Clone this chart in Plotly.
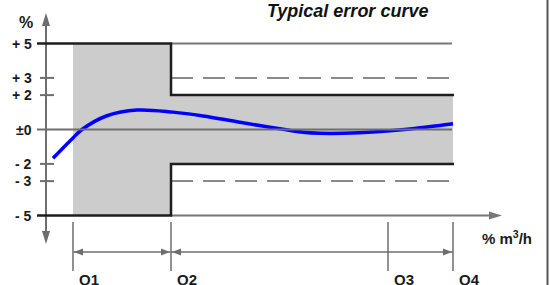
import plotly.graph_objects as go

# ---------------- data ----------------
# x: flow position (arbitrary schematic units, 0 = y-axis)
curve_x = [7, 27, 36, 61, 91, 127, 157, 191, 224, 257, 274, 297, 331, 364, 397, 407]
curve_y = [-1.67, -0.49, 0.0, 0.80, 1.13, 1.01, 0.79, 0.45, 0.13, -0.16, -0.22, -0.22, -0.13, 0.03, 0.26, 0.33]

q_labels = ["Q1", "Q2", "Q3", "Q4"]
q_pos = [27, 125, 342, 407]

tick_vals = [5, 3, 2, 0, -2, -3, -5]
tick_text = ["+ 5", "+ 3", "+ 2", "±0", "- 2", "- 3", "- 5"]

low_range_limit = 5     # % MPE in lower range (Q1..Q2)
high_range_limit = 2    # % MPE in upper range (Q2..Q4)
in_service_limit = 3    # dashed lines

title = "Typical error curve"
x_unit = "% m<sup>3</sup>/h"
y_unit = "%"

# ---------------- geometry helpers ----------------
PX_PER_UNIT_Y = 17.2
Y0_PX = 129.5
Y_TOP = Y0_PX / PX_PER_UNIT_Y
Y_BOT = (Y0_PX - 285) / PX_PER_UNIT_Y
X_LEFT, X_RIGHT = -46, 504


def py(px):  # pixel height -> y data units
    return px / PX_PER_UNIT_Y


GRAY = "#6e6e6e"
DGRAY = "#777777"
BLACK = "#1e1e1e"
FILL = "#cccccc"

Q1, Q2, Q3, Q4 = q_pos
L = low_range_limit
H = high_range_limit
S = in_service_limit

shapes = []

# shaded permissible error area
shapes.append(dict(type="path", xref="x", yref="y",
                   path=f"M{Q1},{-L} L{Q1},{L} L{Q2},{L} L{Q2},{H} L{Q4},{H} L{Q4},{-H} L{Q2},{-H} L{Q2},{-L} Z",
                   fillcolor=FILL, line=dict(width=0), layer="below"))

# gray +5 continuation line
shapes.append(dict(type="line", x0=Q2, x1=Q4 - 1, y0=L, y1=L, line=dict(color=DGRAY, width=2)))
# x-axis line at -5
shapes.append(dict(type="line", x0=Q2, x1=445, y0=-L, y1=-L, line=dict(color=DGRAY, width=2)))
# x-axis arrowhead
shapes.append(dict(type="path", path=f"M443,{-L + py(4)} L456,{-L} L443,{-L - py(4)} Z",
                   fillcolor=DGRAY, line=dict(width=0)))

# dashed in-service lines
for yv in (S, -S):
    shapes.append(dict(type="line", x0=Q2, x1=Q4 - 2, y0=yv, y1=yv,
                       line=dict(color="#8a8a8a", width=2, dash="22px,10px")))

# zero line
shapes.append(dict(type="line", x0=-9, x1=Q4 - 1, y0=0, y1=0, line=dict(color=GRAY, width=2)))

# y axis with arrows
shapes.append(dict(type="line", x0=0, x1=0, y0=py(Y0_PX - 26), y1=-py(231 - Y0_PX),
                   line=dict(color=GRAY, width=2)))
shapes.append(dict(type="path", path=f"M-4,{py(Y0_PX - 26)} L0,{py(Y0_PX - 13)} L4,{py(Y0_PX - 26)} Z",
                   fillcolor=GRAY, line=dict(width=0)))
shapes.append(dict(type="path", path=f"M-4,{-py(231 - Y0_PX)} L0,{-py(244 - Y0_PX)} L4,{-py(231 - Y0_PX)} Z",
                   fillcolor=GRAY, line=dict(width=0)))

# minor ticks
for tv in tick_vals:
    if abs(tv) in (S, H):
        shapes.append(dict(type="line", x0=-6, x1=8, y0=tv, y1=tv, line=dict(color=GRAY, width=2)))

# black limit step lines
for sgn in (1, -1):
    shapes.append(dict(type="path",
                       path=f"M-9,{sgn*L} L{Q2},{sgn*L} L{Q2},{sgn*H} L{Q4 + 1},{sgn*H}",
                       line=dict(color=BLACK, width=2.5)))

# Q vertical ticks
q_top = -py(222 - Y0_PX)
q_bot = -py(271 - Y0_PX)
for q in q_pos:
    shapes.append(dict(type="line", x0=q, x1=q, y0=q_top, y1=q_bot, line=dict(color=GRAY, width=1.5)))

# dimension lines
dim_y = -py(252 - Y0_PX)
for a, b in ((Q1, Q2), (Q2, Q4)):
    shapes.append(dict(type="line", x0=a, x1=b, y0=dim_y, y1=dim_y, line=dict(color=GRAY, width=1.5)))
    shapes.append(dict(type="path",
                       path=f"M{a + 1},{dim_y} L{a + 10},{dim_y + py(3.5)} L{a + 10},{dim_y - py(3.5)} Z",
                       fillcolor=GRAY, line=dict(width=0)))
    shapes.append(dict(type="path",
                       path=f"M{b - 1},{dim_y} L{b - 10},{dim_y + py(3.5)} L{b - 10},{dim_y - py(3.5)} Z",
                       fillcolor=GRAY, line=dict(width=0)))

# right border
shapes.append(dict(type="line", xref="paper", yref="paper", x0=547.5 / 550, x1=547.5 / 550, y0=0, y1=1,
                   line=dict(color="#555555", width=2)))

fig = go.Figure()
fig.add_trace(go.Scatter(x=curve_x, y=curve_y, mode="lines",
                         line=dict(color="#0000ff", width=3.5, shape="spline", smoothing=1.0),
                         hoverinfo="skip", showlegend=False))

FONT = "Liberation Sans, Arial, sans-serif"
annotations = []
for tv, tt in zip(tick_vals, tick_text):
    annotations.append(dict(x=-12, y=tv, text=f"<b>{tt}</b>", showarrow=False, xanchor="right",
                            yanchor="middle", font=dict(family=FONT, size=14, color="#1a1a1a")))
annotations.append(dict(x=-20.5, y=py(Y0_PX - 22), text=f"<b>{y_unit}</b>", showarrow=False,
                        xanchor="center", yanchor="middle", font=dict(family=FONT, size=16, color="#1a1a1a")))
annotations.append(dict(x=301, y=py(Y0_PX - 11), text=f"<b><i>{title}</i></b>", showarrow=False,
                        xanchor="center", yanchor="middle", font=dict(family=FONT, size=18, color="#111111")))
annotations.append(dict(x=434, y=-py(237 - Y0_PX), text=f"<b>{x_unit}</b>", showarrow=False,
                        xanchor="left", yanchor="middle", font=dict(family=FONT, size=15, color="#1a1a1a")))
for q, lab in zip(q_pos, q_labels):
    annotations.append(dict(x=q + 4, y=-py(269 - Y0_PX), text=f"<b>{lab}</b>", showarrow=False,
                            xanchor="left", yanchor="top", font=dict(family=FONT, size=15, color="#1a1a1a")))

fig.update_layout(
    width=550, height=285,
    margin=dict(l=0, r=0, t=0, b=0),
    paper_bgcolor="white", plot_bgcolor="white",
    xaxis=dict(range=[X_LEFT, X_RIGHT], visible=False, fixedrange=True),
    yaxis=dict(range=[Y_BOT, Y_TOP], visible=False, fixedrange=True),
    shapes=shapes,
    annotations=annotations,
    showlegend=False,
)

fig.write_html("out.html", config={"displayModeBar": False},
               post_script="document.body.style.margin='0';document.body.style.overflow='hidden';")
